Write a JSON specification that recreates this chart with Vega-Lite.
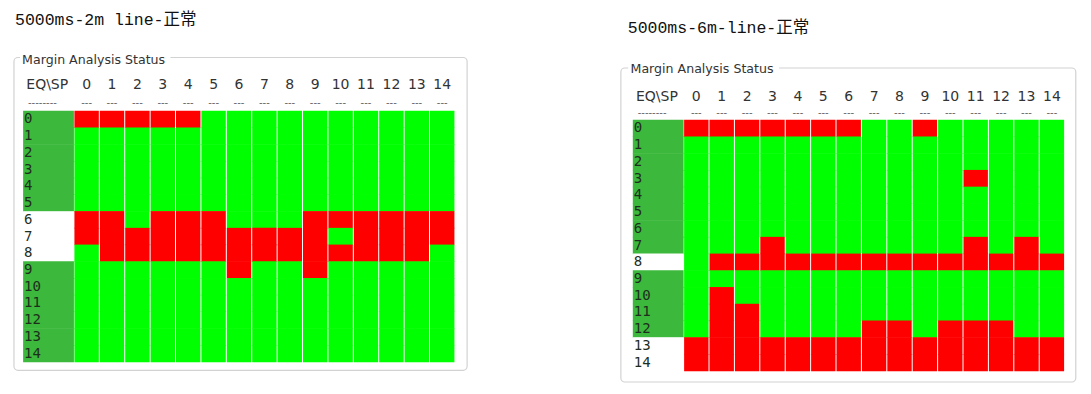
{
  "$schema": "https://vega.github.io/schema/vega-lite/v6.json",
  "padding": 0,
  "background": "white",
  "bounds": "flush",
  "spacing": 75.7,
  "config": {"view": {"stroke": null}},
  "datasets": {
    "cols": [{"sp":0},{"sp":1},{"sp":2},{"sp":3},{"sp":4},{"sp":5},{"sp":6},{"sp":7},{"sp":8},{"sp":9},{"sp":10},{"sp":11},{"sp":12},{"sp":13},{"sp":14}],
    "rowsL": [{"eq":0,"row":"pass"},{"eq":1,"row":"pass"},{"eq":2,"row":"pass"},{"eq":3,"row":"pass"},{"eq":4,"row":"pass"},{"eq":5,"row":"pass"},{"eq":6,"row":"fail"},{"eq":7,"row":"fail"},{"eq":8,"row":"fail"},{"eq":9,"row":"pass"},{"eq":10,"row":"pass"},{"eq":11,"row":"pass"},{"eq":12,"row":"pass"},{"eq":13,"row":"pass"},{"eq":14,"row":"pass"}],
    "rowsR": [{"eq":0,"row":"pass"},{"eq":1,"row":"pass"},{"eq":2,"row":"pass"},{"eq":3,"row":"pass"},{"eq":4,"row":"pass"},{"eq":5,"row":"pass"},{"eq":6,"row":"pass"},{"eq":7,"row":"pass"},{"eq":8,"row":"fail"},{"eq":9,"row":"pass"},{"eq":10,"row":"pass"},{"eq":11,"row":"pass"},{"eq":12,"row":"pass"},{"eq":13,"row":"fail"},{"eq":14,"row":"fail"}],
    "cellsL": [
      {"eq":0,"sp":0,"s":"NG"},{"eq":0,"sp":1,"s":"NG"},{"eq":0,"sp":2,"s":"NG"},{"eq":0,"sp":3,"s":"NG"},{"eq":0,"sp":4,"s":"NG"},{"eq":0,"sp":5,"s":"OK"},{"eq":0,"sp":6,"s":"OK"},{"eq":0,"sp":7,"s":"OK"},{"eq":0,"sp":8,"s":"OK"},{"eq":0,"sp":9,"s":"OK"},{"eq":0,"sp":10,"s":"OK"},{"eq":0,"sp":11,"s":"OK"},{"eq":0,"sp":12,"s":"OK"},{"eq":0,"sp":13,"s":"OK"},{"eq":0,"sp":14,"s":"OK"},
      {"eq":1,"sp":0,"s":"OK"},{"eq":1,"sp":1,"s":"OK"},{"eq":1,"sp":2,"s":"OK"},{"eq":1,"sp":3,"s":"OK"},{"eq":1,"sp":4,"s":"OK"},{"eq":1,"sp":5,"s":"OK"},{"eq":1,"sp":6,"s":"OK"},{"eq":1,"sp":7,"s":"OK"},{"eq":1,"sp":8,"s":"OK"},{"eq":1,"sp":9,"s":"OK"},{"eq":1,"sp":10,"s":"OK"},{"eq":1,"sp":11,"s":"OK"},{"eq":1,"sp":12,"s":"OK"},{"eq":1,"sp":13,"s":"OK"},{"eq":1,"sp":14,"s":"OK"},
      {"eq":2,"sp":0,"s":"OK"},{"eq":2,"sp":1,"s":"OK"},{"eq":2,"sp":2,"s":"OK"},{"eq":2,"sp":3,"s":"OK"},{"eq":2,"sp":4,"s":"OK"},{"eq":2,"sp":5,"s":"OK"},{"eq":2,"sp":6,"s":"OK"},{"eq":2,"sp":7,"s":"OK"},{"eq":2,"sp":8,"s":"OK"},{"eq":2,"sp":9,"s":"OK"},{"eq":2,"sp":10,"s":"OK"},{"eq":2,"sp":11,"s":"OK"},{"eq":2,"sp":12,"s":"OK"},{"eq":2,"sp":13,"s":"OK"},{"eq":2,"sp":14,"s":"OK"},
      {"eq":3,"sp":0,"s":"OK"},{"eq":3,"sp":1,"s":"OK"},{"eq":3,"sp":2,"s":"OK"},{"eq":3,"sp":3,"s":"OK"},{"eq":3,"sp":4,"s":"OK"},{"eq":3,"sp":5,"s":"OK"},{"eq":3,"sp":6,"s":"OK"},{"eq":3,"sp":7,"s":"OK"},{"eq":3,"sp":8,"s":"OK"},{"eq":3,"sp":9,"s":"OK"},{"eq":3,"sp":10,"s":"OK"},{"eq":3,"sp":11,"s":"OK"},{"eq":3,"sp":12,"s":"OK"},{"eq":3,"sp":13,"s":"OK"},{"eq":3,"sp":14,"s":"OK"},
      {"eq":4,"sp":0,"s":"OK"},{"eq":4,"sp":1,"s":"OK"},{"eq":4,"sp":2,"s":"OK"},{"eq":4,"sp":3,"s":"OK"},{"eq":4,"sp":4,"s":"OK"},{"eq":4,"sp":5,"s":"OK"},{"eq":4,"sp":6,"s":"OK"},{"eq":4,"sp":7,"s":"OK"},{"eq":4,"sp":8,"s":"OK"},{"eq":4,"sp":9,"s":"OK"},{"eq":4,"sp":10,"s":"OK"},{"eq":4,"sp":11,"s":"OK"},{"eq":4,"sp":12,"s":"OK"},{"eq":4,"sp":13,"s":"OK"},{"eq":4,"sp":14,"s":"OK"},
      {"eq":5,"sp":0,"s":"OK"},{"eq":5,"sp":1,"s":"OK"},{"eq":5,"sp":2,"s":"OK"},{"eq":5,"sp":3,"s":"OK"},{"eq":5,"sp":4,"s":"OK"},{"eq":5,"sp":5,"s":"OK"},{"eq":5,"sp":6,"s":"OK"},{"eq":5,"sp":7,"s":"OK"},{"eq":5,"sp":8,"s":"OK"},{"eq":5,"sp":9,"s":"OK"},{"eq":5,"sp":10,"s":"OK"},{"eq":5,"sp":11,"s":"OK"},{"eq":5,"sp":12,"s":"OK"},{"eq":5,"sp":13,"s":"OK"},{"eq":5,"sp":14,"s":"OK"},
      {"eq":6,"sp":0,"s":"NG"},{"eq":6,"sp":1,"s":"NG"},{"eq":6,"sp":2,"s":"OK"},{"eq":6,"sp":3,"s":"NG"},{"eq":6,"sp":4,"s":"NG"},{"eq":6,"sp":5,"s":"NG"},{"eq":6,"sp":6,"s":"OK"},{"eq":6,"sp":7,"s":"OK"},{"eq":6,"sp":8,"s":"OK"},{"eq":6,"sp":9,"s":"NG"},{"eq":6,"sp":10,"s":"NG"},{"eq":6,"sp":11,"s":"NG"},{"eq":6,"sp":12,"s":"NG"},{"eq":6,"sp":13,"s":"NG"},{"eq":6,"sp":14,"s":"NG"},
      {"eq":7,"sp":0,"s":"NG"},{"eq":7,"sp":1,"s":"NG"},{"eq":7,"sp":2,"s":"NG"},{"eq":7,"sp":3,"s":"NG"},{"eq":7,"sp":4,"s":"NG"},{"eq":7,"sp":5,"s":"NG"},{"eq":7,"sp":6,"s":"NG"},{"eq":7,"sp":7,"s":"NG"},{"eq":7,"sp":8,"s":"NG"},{"eq":7,"sp":9,"s":"NG"},{"eq":7,"sp":10,"s":"OK"},{"eq":7,"sp":11,"s":"NG"},{"eq":7,"sp":12,"s":"NG"},{"eq":7,"sp":13,"s":"NG"},{"eq":7,"sp":14,"s":"NG"},
      {"eq":8,"sp":0,"s":"OK"},{"eq":8,"sp":1,"s":"NG"},{"eq":8,"sp":2,"s":"NG"},{"eq":8,"sp":3,"s":"NG"},{"eq":8,"sp":4,"s":"NG"},{"eq":8,"sp":5,"s":"NG"},{"eq":8,"sp":6,"s":"NG"},{"eq":8,"sp":7,"s":"NG"},{"eq":8,"sp":8,"s":"NG"},{"eq":8,"sp":9,"s":"NG"},{"eq":8,"sp":10,"s":"NG"},{"eq":8,"sp":11,"s":"NG"},{"eq":8,"sp":12,"s":"NG"},{"eq":8,"sp":13,"s":"NG"},{"eq":8,"sp":14,"s":"OK"},
      {"eq":9,"sp":0,"s":"OK"},{"eq":9,"sp":1,"s":"OK"},{"eq":9,"sp":2,"s":"OK"},{"eq":9,"sp":3,"s":"OK"},{"eq":9,"sp":4,"s":"OK"},{"eq":9,"sp":5,"s":"OK"},{"eq":9,"sp":6,"s":"NG"},{"eq":9,"sp":7,"s":"OK"},{"eq":9,"sp":8,"s":"OK"},{"eq":9,"sp":9,"s":"NG"},{"eq":9,"sp":10,"s":"OK"},{"eq":9,"sp":11,"s":"OK"},{"eq":9,"sp":12,"s":"OK"},{"eq":9,"sp":13,"s":"OK"},{"eq":9,"sp":14,"s":"OK"},
      {"eq":10,"sp":0,"s":"OK"},{"eq":10,"sp":1,"s":"OK"},{"eq":10,"sp":2,"s":"OK"},{"eq":10,"sp":3,"s":"OK"},{"eq":10,"sp":4,"s":"OK"},{"eq":10,"sp":5,"s":"OK"},{"eq":10,"sp":6,"s":"OK"},{"eq":10,"sp":7,"s":"OK"},{"eq":10,"sp":8,"s":"OK"},{"eq":10,"sp":9,"s":"OK"},{"eq":10,"sp":10,"s":"OK"},{"eq":10,"sp":11,"s":"OK"},{"eq":10,"sp":12,"s":"OK"},{"eq":10,"sp":13,"s":"OK"},{"eq":10,"sp":14,"s":"OK"},
      {"eq":11,"sp":0,"s":"OK"},{"eq":11,"sp":1,"s":"OK"},{"eq":11,"sp":2,"s":"OK"},{"eq":11,"sp":3,"s":"OK"},{"eq":11,"sp":4,"s":"OK"},{"eq":11,"sp":5,"s":"OK"},{"eq":11,"sp":6,"s":"OK"},{"eq":11,"sp":7,"s":"OK"},{"eq":11,"sp":8,"s":"OK"},{"eq":11,"sp":9,"s":"OK"},{"eq":11,"sp":10,"s":"OK"},{"eq":11,"sp":11,"s":"OK"},{"eq":11,"sp":12,"s":"OK"},{"eq":11,"sp":13,"s":"OK"},{"eq":11,"sp":14,"s":"OK"},
      {"eq":12,"sp":0,"s":"OK"},{"eq":12,"sp":1,"s":"OK"},{"eq":12,"sp":2,"s":"OK"},{"eq":12,"sp":3,"s":"OK"},{"eq":12,"sp":4,"s":"OK"},{"eq":12,"sp":5,"s":"OK"},{"eq":12,"sp":6,"s":"OK"},{"eq":12,"sp":7,"s":"OK"},{"eq":12,"sp":8,"s":"OK"},{"eq":12,"sp":9,"s":"OK"},{"eq":12,"sp":10,"s":"OK"},{"eq":12,"sp":11,"s":"OK"},{"eq":12,"sp":12,"s":"OK"},{"eq":12,"sp":13,"s":"OK"},{"eq":12,"sp":14,"s":"OK"},
      {"eq":13,"sp":0,"s":"OK"},{"eq":13,"sp":1,"s":"OK"},{"eq":13,"sp":2,"s":"OK"},{"eq":13,"sp":3,"s":"OK"},{"eq":13,"sp":4,"s":"OK"},{"eq":13,"sp":5,"s":"OK"},{"eq":13,"sp":6,"s":"OK"},{"eq":13,"sp":7,"s":"OK"},{"eq":13,"sp":8,"s":"OK"},{"eq":13,"sp":9,"s":"OK"},{"eq":13,"sp":10,"s":"OK"},{"eq":13,"sp":11,"s":"OK"},{"eq":13,"sp":12,"s":"OK"},{"eq":13,"sp":13,"s":"OK"},{"eq":13,"sp":14,"s":"OK"},
      {"eq":14,"sp":0,"s":"OK"},{"eq":14,"sp":1,"s":"OK"},{"eq":14,"sp":2,"s":"OK"},{"eq":14,"sp":3,"s":"OK"},{"eq":14,"sp":4,"s":"OK"},{"eq":14,"sp":5,"s":"OK"},{"eq":14,"sp":6,"s":"OK"},{"eq":14,"sp":7,"s":"OK"},{"eq":14,"sp":8,"s":"OK"},{"eq":14,"sp":9,"s":"OK"},{"eq":14,"sp":10,"s":"OK"},{"eq":14,"sp":11,"s":"OK"},{"eq":14,"sp":12,"s":"OK"},{"eq":14,"sp":13,"s":"OK"},{"eq":14,"sp":14,"s":"OK"}
    ],
    "cellsR": [
      {"eq":0,"sp":0,"s":"NG"},{"eq":0,"sp":1,"s":"NG"},{"eq":0,"sp":2,"s":"NG"},{"eq":0,"sp":3,"s":"NG"},{"eq":0,"sp":4,"s":"NG"},{"eq":0,"sp":5,"s":"NG"},{"eq":0,"sp":6,"s":"NG"},{"eq":0,"sp":7,"s":"OK"},{"eq":0,"sp":8,"s":"OK"},{"eq":0,"sp":9,"s":"NG"},{"eq":0,"sp":10,"s":"OK"},{"eq":0,"sp":11,"s":"OK"},{"eq":0,"sp":12,"s":"OK"},{"eq":0,"sp":13,"s":"OK"},{"eq":0,"sp":14,"s":"OK"},
      {"eq":1,"sp":0,"s":"OK"},{"eq":1,"sp":1,"s":"OK"},{"eq":1,"sp":2,"s":"OK"},{"eq":1,"sp":3,"s":"OK"},{"eq":1,"sp":4,"s":"OK"},{"eq":1,"sp":5,"s":"OK"},{"eq":1,"sp":6,"s":"OK"},{"eq":1,"sp":7,"s":"OK"},{"eq":1,"sp":8,"s":"OK"},{"eq":1,"sp":9,"s":"OK"},{"eq":1,"sp":10,"s":"OK"},{"eq":1,"sp":11,"s":"OK"},{"eq":1,"sp":12,"s":"OK"},{"eq":1,"sp":13,"s":"OK"},{"eq":1,"sp":14,"s":"OK"},
      {"eq":2,"sp":0,"s":"OK"},{"eq":2,"sp":1,"s":"OK"},{"eq":2,"sp":2,"s":"OK"},{"eq":2,"sp":3,"s":"OK"},{"eq":2,"sp":4,"s":"OK"},{"eq":2,"sp":5,"s":"OK"},{"eq":2,"sp":6,"s":"OK"},{"eq":2,"sp":7,"s":"OK"},{"eq":2,"sp":8,"s":"OK"},{"eq":2,"sp":9,"s":"OK"},{"eq":2,"sp":10,"s":"OK"},{"eq":2,"sp":11,"s":"OK"},{"eq":2,"sp":12,"s":"OK"},{"eq":2,"sp":13,"s":"OK"},{"eq":2,"sp":14,"s":"OK"},
      {"eq":3,"sp":0,"s":"OK"},{"eq":3,"sp":1,"s":"OK"},{"eq":3,"sp":2,"s":"OK"},{"eq":3,"sp":3,"s":"OK"},{"eq":3,"sp":4,"s":"OK"},{"eq":3,"sp":5,"s":"OK"},{"eq":3,"sp":6,"s":"OK"},{"eq":3,"sp":7,"s":"OK"},{"eq":3,"sp":8,"s":"OK"},{"eq":3,"sp":9,"s":"OK"},{"eq":3,"sp":10,"s":"OK"},{"eq":3,"sp":11,"s":"NG"},{"eq":3,"sp":12,"s":"OK"},{"eq":3,"sp":13,"s":"OK"},{"eq":3,"sp":14,"s":"OK"},
      {"eq":4,"sp":0,"s":"OK"},{"eq":4,"sp":1,"s":"OK"},{"eq":4,"sp":2,"s":"OK"},{"eq":4,"sp":3,"s":"OK"},{"eq":4,"sp":4,"s":"OK"},{"eq":4,"sp":5,"s":"OK"},{"eq":4,"sp":6,"s":"OK"},{"eq":4,"sp":7,"s":"OK"},{"eq":4,"sp":8,"s":"OK"},{"eq":4,"sp":9,"s":"OK"},{"eq":4,"sp":10,"s":"OK"},{"eq":4,"sp":11,"s":"OK"},{"eq":4,"sp":12,"s":"OK"},{"eq":4,"sp":13,"s":"OK"},{"eq":4,"sp":14,"s":"OK"},
      {"eq":5,"sp":0,"s":"OK"},{"eq":5,"sp":1,"s":"OK"},{"eq":5,"sp":2,"s":"OK"},{"eq":5,"sp":3,"s":"OK"},{"eq":5,"sp":4,"s":"OK"},{"eq":5,"sp":5,"s":"OK"},{"eq":5,"sp":6,"s":"OK"},{"eq":5,"sp":7,"s":"OK"},{"eq":5,"sp":8,"s":"OK"},{"eq":5,"sp":9,"s":"OK"},{"eq":5,"sp":10,"s":"OK"},{"eq":5,"sp":11,"s":"OK"},{"eq":5,"sp":12,"s":"OK"},{"eq":5,"sp":13,"s":"OK"},{"eq":5,"sp":14,"s":"OK"},
      {"eq":6,"sp":0,"s":"OK"},{"eq":6,"sp":1,"s":"OK"},{"eq":6,"sp":2,"s":"OK"},{"eq":6,"sp":3,"s":"OK"},{"eq":6,"sp":4,"s":"OK"},{"eq":6,"sp":5,"s":"OK"},{"eq":6,"sp":6,"s":"OK"},{"eq":6,"sp":7,"s":"OK"},{"eq":6,"sp":8,"s":"OK"},{"eq":6,"sp":9,"s":"OK"},{"eq":6,"sp":10,"s":"OK"},{"eq":6,"sp":11,"s":"OK"},{"eq":6,"sp":12,"s":"OK"},{"eq":6,"sp":13,"s":"OK"},{"eq":6,"sp":14,"s":"OK"},
      {"eq":7,"sp":0,"s":"OK"},{"eq":7,"sp":1,"s":"OK"},{"eq":7,"sp":2,"s":"OK"},{"eq":7,"sp":3,"s":"NG"},{"eq":7,"sp":4,"s":"OK"},{"eq":7,"sp":5,"s":"OK"},{"eq":7,"sp":6,"s":"OK"},{"eq":7,"sp":7,"s":"OK"},{"eq":7,"sp":8,"s":"OK"},{"eq":7,"sp":9,"s":"OK"},{"eq":7,"sp":10,"s":"OK"},{"eq":7,"sp":11,"s":"NG"},{"eq":7,"sp":12,"s":"OK"},{"eq":7,"sp":13,"s":"NG"},{"eq":7,"sp":14,"s":"OK"},
      {"eq":8,"sp":0,"s":"OK"},{"eq":8,"sp":1,"s":"NG"},{"eq":8,"sp":2,"s":"NG"},{"eq":8,"sp":3,"s":"NG"},{"eq":8,"sp":4,"s":"NG"},{"eq":8,"sp":5,"s":"NG"},{"eq":8,"sp":6,"s":"NG"},{"eq":8,"sp":7,"s":"NG"},{"eq":8,"sp":8,"s":"NG"},{"eq":8,"sp":9,"s":"NG"},{"eq":8,"sp":10,"s":"NG"},{"eq":8,"sp":11,"s":"NG"},{"eq":8,"sp":12,"s":"NG"},{"eq":8,"sp":13,"s":"NG"},{"eq":8,"sp":14,"s":"NG"},
      {"eq":9,"sp":0,"s":"OK"},{"eq":9,"sp":1,"s":"OK"},{"eq":9,"sp":2,"s":"OK"},{"eq":9,"sp":3,"s":"OK"},{"eq":9,"sp":4,"s":"OK"},{"eq":9,"sp":5,"s":"OK"},{"eq":9,"sp":6,"s":"OK"},{"eq":9,"sp":7,"s":"OK"},{"eq":9,"sp":8,"s":"OK"},{"eq":9,"sp":9,"s":"OK"},{"eq":9,"sp":10,"s":"OK"},{"eq":9,"sp":11,"s":"OK"},{"eq":9,"sp":12,"s":"OK"},{"eq":9,"sp":13,"s":"OK"},{"eq":9,"sp":14,"s":"OK"},
      {"eq":10,"sp":0,"s":"OK"},{"eq":10,"sp":1,"s":"NG"},{"eq":10,"sp":2,"s":"OK"},{"eq":10,"sp":3,"s":"OK"},{"eq":10,"sp":4,"s":"OK"},{"eq":10,"sp":5,"s":"OK"},{"eq":10,"sp":6,"s":"OK"},{"eq":10,"sp":7,"s":"OK"},{"eq":10,"sp":8,"s":"OK"},{"eq":10,"sp":9,"s":"OK"},{"eq":10,"sp":10,"s":"OK"},{"eq":10,"sp":11,"s":"OK"},{"eq":10,"sp":12,"s":"OK"},{"eq":10,"sp":13,"s":"OK"},{"eq":10,"sp":14,"s":"OK"},
      {"eq":11,"sp":0,"s":"OK"},{"eq":11,"sp":1,"s":"NG"},{"eq":11,"sp":2,"s":"NG"},{"eq":11,"sp":3,"s":"OK"},{"eq":11,"sp":4,"s":"OK"},{"eq":11,"sp":5,"s":"OK"},{"eq":11,"sp":6,"s":"OK"},{"eq":11,"sp":7,"s":"OK"},{"eq":11,"sp":8,"s":"OK"},{"eq":11,"sp":9,"s":"OK"},{"eq":11,"sp":10,"s":"OK"},{"eq":11,"sp":11,"s":"OK"},{"eq":11,"sp":12,"s":"OK"},{"eq":11,"sp":13,"s":"OK"},{"eq":11,"sp":14,"s":"OK"},
      {"eq":12,"sp":0,"s":"OK"},{"eq":12,"sp":1,"s":"NG"},{"eq":12,"sp":2,"s":"NG"},{"eq":12,"sp":3,"s":"OK"},{"eq":12,"sp":4,"s":"OK"},{"eq":12,"sp":5,"s":"OK"},{"eq":12,"sp":6,"s":"OK"},{"eq":12,"sp":7,"s":"NG"},{"eq":12,"sp":8,"s":"NG"},{"eq":12,"sp":9,"s":"OK"},{"eq":12,"sp":10,"s":"NG"},{"eq":12,"sp":11,"s":"NG"},{"eq":12,"sp":12,"s":"NG"},{"eq":12,"sp":13,"s":"OK"},{"eq":12,"sp":14,"s":"OK"},
      {"eq":13,"sp":0,"s":"NG"},{"eq":13,"sp":1,"s":"NG"},{"eq":13,"sp":2,"s":"NG"},{"eq":13,"sp":3,"s":"NG"},{"eq":13,"sp":4,"s":"NG"},{"eq":13,"sp":5,"s":"NG"},{"eq":13,"sp":6,"s":"NG"},{"eq":13,"sp":7,"s":"NG"},{"eq":13,"sp":8,"s":"NG"},{"eq":13,"sp":9,"s":"NG"},{"eq":13,"sp":10,"s":"NG"},{"eq":13,"sp":11,"s":"NG"},{"eq":13,"sp":12,"s":"NG"},{"eq":13,"sp":13,"s":"NG"},{"eq":13,"sp":14,"s":"NG"},
      {"eq":14,"sp":0,"s":"NG"},{"eq":14,"sp":1,"s":"NG"},{"eq":14,"sp":2,"s":"NG"},{"eq":14,"sp":3,"s":"NG"},{"eq":14,"sp":4,"s":"NG"},{"eq":14,"sp":5,"s":"NG"},{"eq":14,"sp":6,"s":"NG"},{"eq":14,"sp":7,"s":"NG"},{"eq":14,"sp":8,"s":"NG"},{"eq":14,"sp":9,"s":"NG"},{"eq":14,"sp":10,"s":"NG"},{"eq":14,"sp":11,"s":"NG"},{"eq":14,"sp":12,"s":"NG"},{"eq":14,"sp":13,"s":"NG"},{"eq":14,"sp":14,"s":"NG"}
    ]
  },
  "hconcat": [
    {
      "width": 533.4,
      "height": 394,
      "resolve": {"scale": {"color": "independent"}},
      "layer": [
        {
          "data": {"values": [{}]},
          "mark": {"type": "rect", "fill": "white", "stroke": "#d2d2d2", "strokeWidth": 1.2, "cornerRadius": 4},
          "encoding": {
            "x": {"datum": -2.86, "type": "quantitative", "scale": {"domain": [-3.41, 17.59], "nice": false, "zero": false}, "axis": null},
            "x2": {"datum": 14.98},
            "y": {"datum": -3.7, "type": "quantitative", "scale": {"domain": [-7.137, 16.414], "reverse": true, "nice": false, "zero": false}, "axis": null},
            "y2": {"datum": 15.0}
          }
        },
        {
          "data": {"values": [{"t": "5000ms-2m line-正常"}]},
          "mark": {"type": "text", "align": "left", "baseline": "middle", "font": "Liberation Mono, Noto Sans CJK SC", "fontSize": 16.5, "fill": "#111"},
          "encoding": {
            "x": {"datum": -2.82, "type": "quantitative"},
            "y": {"datum": -5.94, "type": "quantitative"},
            "text": {"field": "t"}
          }
        },
        {
          "data": {"values": [{}]},
          "mark": {"type": "rect", "fill": "white"},
          "encoding": {
            "x": {"datum": -2.62, "type": "quantitative"},
            "x2": {"datum": 3.3},
            "y": {"datum": -4.2, "type": "quantitative"},
            "y2": {"datum": -3.0}
          }
        },
        {
          "data": {"values": [{"t": "Margin Analysis Status"}]},
          "mark": {"type": "text", "align": "left", "baseline": "middle", "font": "DejaVu Sans", "fontSize": 12.6, "fill": "#333"},
          "encoding": {
            "x": {"datum": -2.54, "type": "quantitative"},
            "y": {"datum": -3.55, "type": "quantitative"},
            "text": {"field": "t"}
          }
        },
        {
          "data": {"values": [{"t": "EQ\\SP", "d": "--------"}]},
          "mark": {"type": "text", "align": "center", "baseline": "middle", "font": "DejaVu Sans", "fontSize": 14, "fill": "#333"},
          "encoding": {
            "x": {"datum": -1.55, "type": "quantitative"},
            "y": {"datum": -2.06, "type": "quantitative"},
            "text": {"field": "t"}
          }
        },
        {
          "data": {"values": [{"t": "EQ\\SP", "d": "--------"}]},
          "mark": {"type": "text", "align": "center", "baseline": "middle", "font": "DejaVu Sans", "fontSize": 10, "fill": "#666"},
          "encoding": {
            "x": {"datum": -1.74, "type": "quantitative"},
            "y": {"datum": -1.0, "type": "quantitative"},
            "text": {"field": "d"}
          }
        },
        {
          "data": {"name": "cols"},
          "mark": {"type": "text", "align": "center", "baseline": "middle", "font": "DejaVu Sans", "fontSize": 14, "fill": "#333"},
          "encoding": {
            "x": {"field": "sp", "type": "quantitative"},
            "y": {"datum": -2.06, "type": "quantitative"},
            "text": {"field": "sp"}
          }
        },
        {
          "data": {"name": "cols"},
          "mark": {"type": "text", "align": "center", "baseline": "middle", "font": "DejaVu Sans", "fontSize": 10, "fill": "#666", "text": "---"},
          "encoding": {
            "x": {"field": "sp", "type": "quantitative"},
            "y": {"datum": -1.0, "type": "quantitative"}
          }
        },
        {
          "data": {"name": "rowsL"},
          "mark": {"type": "rect", "height": 17.3},
          "encoding": {
            "x": {"datum": -2.5, "type": "quantitative"},
            "x2": {"datum": -0.5},
            "y": {"field": "eq", "type": "quantitative"},
            "color": {"field": "row", "type": "nominal", "scale": {"domain": ["pass", "fail"], "range": ["#3cb83c", "#ffffff"]}, "legend": null}
          }
        },
        {
          "data": {"name": "cellsL"},
          "mark": {"type": "rect", "width": 24.4, "height": 17.3},
          "encoding": {
            "x": {"field": "sp", "type": "quantitative"},
            "y": {"field": "eq", "type": "quantitative"},
            "color": {"field": "s", "type": "nominal", "scale": {"domain": ["OK", "NG"], "range": ["#00ff00", "#ff0000"]}, "legend": null}
          }
        },
        {
          "data": {"name": "rowsL"},
          "mark": {"type": "text", "align": "left", "baseline": "middle", "dx": 1, "font": "DejaVu Sans Mono", "fontSize": 14, "fill": "#1e2e1e"},
          "encoding": {
            "x": {"datum": -2.5, "type": "quantitative"},
            "y": {"field": "eq", "type": "quantitative"},
            "text": {"field": "eq"}
          }
        }
      ]
    },
    {
      "width": 480.3,
      "height": 394,
      "resolve": {"scale": {"color": "independent"}},
      "layer": [
        {
          "data": {"values": [{}]},
          "mark": {"type": "rect", "fill": "white", "stroke": "#d2d2d2", "strokeWidth": 1.2, "cornerRadius": 4},
          "encoding": {
            "x": {"datum": -2.97, "type": "quantitative", "scale": {"domain": [-3.41, 15.5], "nice": false, "zero": false}, "axis": null},
            "x2": {"datum": 14.94},
            "y": {"datum": -3.61, "type": "quantitative", "scale": {"domain": [-7.675, 15.876], "reverse": true, "nice": false, "zero": false}, "axis": null},
            "y2": {"datum": 15.16}
          }
        },
        {
          "data": {"values": [{"t": "5000ms-6m-line-正常"}]},
          "mark": {"type": "text", "align": "left", "baseline": "middle", "font": "Liberation Mono, Noto Sans CJK SC", "fontSize": 16.5, "fill": "#111"},
          "encoding": {
            "x": {"datum": -2.7, "type": "quantitative"},
            "y": {"datum": -6.0, "type": "quantitative"},
            "text": {"field": "t"}
          }
        },
        {
          "data": {"values": [{}]},
          "mark": {"type": "rect", "fill": "white"},
          "encoding": {
            "x": {"datum": -2.68, "type": "quantitative"},
            "x2": {"datum": 3.26},
            "y": {"datum": -4.1, "type": "quantitative"},
            "y2": {"datum": -3.0}
          }
        },
        {
          "data": {"values": [{"t": "Margin Analysis Status"}]},
          "mark": {"type": "text", "align": "left", "baseline": "middle", "font": "DejaVu Sans", "fontSize": 12.6, "fill": "#333"},
          "encoding": {
            "x": {"datum": -2.59, "type": "quantitative"},
            "y": {"datum": -3.55, "type": "quantitative"},
            "text": {"field": "t"}
          }
        },
        {
          "data": {"values": [{"t": "EQ\\SP", "d": "--------"}]},
          "mark": {"type": "text", "align": "center", "baseline": "middle", "font": "DejaVu Sans", "fontSize": 14, "fill": "#333"},
          "encoding": {
            "x": {"datum": -1.55, "type": "quantitative"},
            "y": {"datum": -1.88, "type": "quantitative"},
            "text": {"field": "t"}
          }
        },
        {
          "data": {"values": [{"t": "EQ\\SP", "d": "--------"}]},
          "mark": {"type": "text", "align": "center", "baseline": "middle", "font": "DejaVu Sans", "fontSize": 10, "fill": "#666"},
          "encoding": {
            "x": {"datum": -1.74, "type": "quantitative"},
            "y": {"datum": -0.95, "type": "quantitative"},
            "text": {"field": "d"}
          }
        },
        {
          "data": {"name": "cols"},
          "mark": {"type": "text", "align": "center", "baseline": "middle", "font": "DejaVu Sans", "fontSize": 14, "fill": "#333"},
          "encoding": {
            "x": {"field": "sp", "type": "quantitative"},
            "y": {"datum": -1.88, "type": "quantitative"},
            "text": {"field": "sp"}
          }
        },
        {
          "data": {"name": "cols"},
          "mark": {"type": "text", "align": "center", "baseline": "middle", "font": "DejaVu Sans", "fontSize": 10, "fill": "#666", "text": "---"},
          "encoding": {
            "x": {"field": "sp", "type": "quantitative"},
            "y": {"datum": -0.95, "type": "quantitative"}
          }
        },
        {
          "data": {"name": "rowsR"},
          "mark": {"type": "rect", "height": 17.3},
          "encoding": {
            "x": {"datum": -2.5, "type": "quantitative"},
            "x2": {"datum": -0.5},
            "y": {"field": "eq", "type": "quantitative"},
            "color": {"field": "row", "type": "nominal", "scale": {"domain": ["pass", "fail"], "range": ["#3cb83c", "#ffffff"]}, "legend": null}
          }
        },
        {
          "data": {"name": "cellsR"},
          "mark": {"type": "rect", "width": 24.4, "height": 17.3},
          "encoding": {
            "x": {"field": "sp", "type": "quantitative"},
            "y": {"field": "eq", "type": "quantitative"},
            "color": {"field": "s", "type": "nominal", "scale": {"domain": ["OK", "NG"], "range": ["#00ff00", "#ff0000"]}, "legend": null}
          }
        },
        {
          "data": {"name": "rowsR"},
          "mark": {"type": "text", "align": "left", "baseline": "middle", "dx": 1, "font": "DejaVu Sans Mono", "fontSize": 14, "fill": "#1e2e1e"},
          "encoding": {
            "x": {"datum": -2.5, "type": "quantitative"},
            "y": {"field": "eq", "type": "quantitative"},
            "text": {"field": "eq"}
          }
        }
      ]
    }
  ]
}
